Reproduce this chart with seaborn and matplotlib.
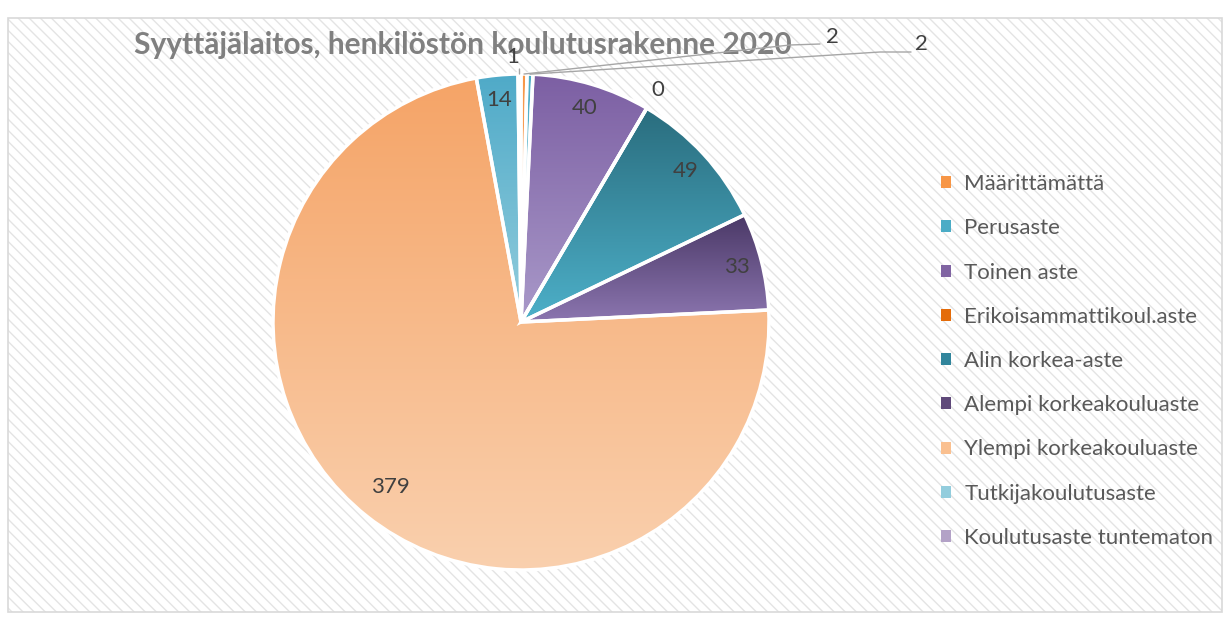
import matplotlib.pyplot as plt
import matplotlib.patches as mpatches
from matplotlib.colors import to_rgb
import numpy as np
import seaborn as sns

categories = ['Määrittämättä', 'Perusaste', 'Toinen aste', 'Erikoisammattikoul.aste',
              'Alin korkea-aste', 'Alempi korkeakouluaste', 'Ylempi korkeakouluaste',
              'Tutkijakoulutusaste', 'Koulutusaste tuntematon']
counts = [2, 2, 40, 0, 49, 33, 379, 14, 1]
legend_colors = ['#F79646', '#4BACC6', '#8064A2', '#E46C0A', '#31859C',
                 '#5F497A', '#FAC090', '#93CDDD', '#B3A2C7']
top_colors = ['#F79646', '#4BACC6', '#7C5FA3', '#E46C0A', '#2A6D7E',
              '#4A3866', '#F5A467', '#4FAAC8', '#B3A2C7']
bottom_colors = ['#F9B584', '#8CCBDC', '#A999C9', '#F0A060', '#4DB0C9',
                 '#8C76B0', '#FAD0AE', '#93CDDD', '#D0C4E0']
title = 'Syyttäjälaitos, henkilöstön koulutusrakenne 2020'

sns.set_theme(style='white')
plt.rcParams['font.family'] = ['Lato', 'DejaVu Sans']
plt.rcParams['hatch.linewidth'] = 1.0

W, H = 1229, 621
fig = plt.figure(figsize=(W / 100, H / 100), dpi=100)
fig.patch.set_facecolor('white')

# hatched chart area + border
fig.patches.append(mpatches.Rectangle((8 / W, 9 / H), 1214 / W, 594 / H, transform=fig.transFigure,
                                      facecolor='white', edgecolor='#E4E4E4', lw=0,
                                      hatch='\\' * 3, zorder=-10))
fig.patches.append(mpatches.Rectangle((8 / W, 9 / H), 1214 / W, 594 / H, transform=fig.transFigure,
                                      fill=False, edgecolor='#D9D9D9', lw=1.2, zorder=-9))

fig.text(463 / W, 1 - 45 / H, title, ha='center', va='center', fontsize=21.5,
         fontweight='bold', color='#808080', zorder=-1)

# pie: center (521, 322) px, radius 248 px
ax = fig.add_axes([273 / W, 51 / H, 496 / W, 496 / H])
wedges, _ = ax.pie(counts, startangle=90, counterclock=False, radius=1,
                   wedgeprops=dict(edgecolor='white', linewidth=2.5))

# vertical gradient fill inside each slice
grad = np.linspace(0, 1, 256)[:, None, None]
for w, ct, cb in zip(wedges, top_colors, bottom_colors):
    bb = w.get_path().get_extents()
    img = (1 - grad) * np.array(to_rgb(ct)) + grad * np.array(to_rgb(cb))
    if bb.width > 0 and bb.height > 0:
        im = ax.imshow(img, extent=[bb.x0, bb.x1, bb.y0, bb.y1], origin='upper',
                       aspect='auto', zorder=1, interpolation='bilinear')
        im.set_clip_path(w)
    w.set_facecolor('none')
    w.set_zorder(2)

ax.set_xlim(-1, 1)
ax.set_ylim(-1, 1)
ax.set_aspect('equal')
ax.axis('off')

# data labels
total = sum(counts)
mid = (np.cumsum(counts) - np.array(counts) / 2) / total * 2 * np.pi  # clockwise from top
lab_kw = dict(ha='center', va='center', fontsize=16, color='#404040', zorder=5)
for i, (v, a) in enumerate(zip(counts, mid)):
    if v >= 10:
        r = 0.85 if v > 200 else 0.9
        ax.text(r * np.sin(a), r * np.cos(a), str(v), **lab_kw)
    elif v == 0:
        ax.text(1.087 * np.sin(a), 1.087 * np.cos(a), str(v), **lab_kw)
    elif v == 1:
        ax.plot([np.sin(a), 1.02 * np.sin(a)], [np.cos(a), 1.02 * np.cos(a)],
                color='#A6A6A6', lw=1, zorder=4, clip_on=False)
        ax.text(-0.032, 1.07, str(v), **lab_kw)

# the two small slices with leader lines
px = lambda x, y: ((x - 521) / 248, (322 - y) / 248)
leaders = [(px(790, 45), px(820, 44), px(832, 37)),
           (px(880, 52), px(911, 52), px(921, 44))]
small = [i for i, v in enumerate(counts) if 0 < v < 10 and v != 1]
for i, (bend, end, tpos) in zip(small, leaders):
    a = mid[i]
    sx, sy = np.sin(a), np.cos(a)
    ax.plot([sx, bend[0], end[0]], [sy, bend[1], end[1]], color='#A6A6A6', lw=1,
            zorder=4, clip_on=False)
    ax.text(tpos[0], tpos[1], str(counts[i]), **lab_kw)

handles = [mpatches.Patch(facecolor=c, edgecolor='none') for c in legend_colors]
fig.legend(handles, categories, loc='center left', bbox_to_anchor=(930 / W, 1 - 361 / H),
           frameon=False, fontsize=16, labelcolor='#595959', handlelength=0.45,
           handleheight=0.45, handletextpad=0.6, labelspacing=1.09, borderpad=0)

fig.savefig('out.png', dpi=100)
